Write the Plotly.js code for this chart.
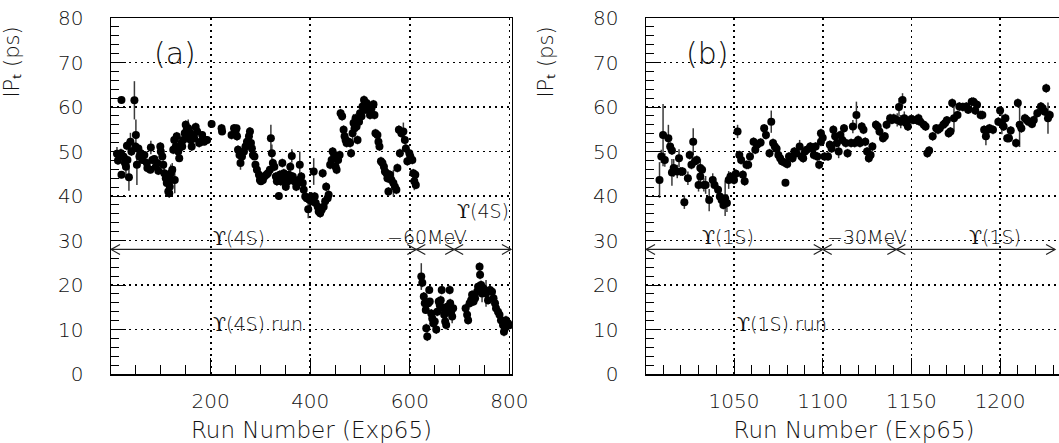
<!DOCTYPE html>
<html>
<head>
<meta charset="utf-8">
<script src="https://cdn.plot.ly/plotly-3.0.1.min.js"></script>
<style>
html,body{margin:0;padding:0;background:#fff;overflow:hidden;}
#chart{width:1062px;height:443px;}
</style>
</head>
<body>
<div id="chart"></div>
<script>
// ---------- Panel (a): Exp65 Upsilon(4S) runs ----------
const runA = [12,14,20,21,21,25,28,30,32,33,36,39,41,47,49,50,52,55,57,60,63,67,72,73,79,80,83,87,90,93,95,99,100,103,105,107,110,112,115,117,118,120,121,123,125,127,128,130,132,135,137,139,141,143,145,148,150,152,153,155,157,160,162,164,167,170,173,177,180,183,187,190,193,202,222,223,242,247,250,252,253,255,258,260,263,267,270,273,277,279,281,283,285,288,290,293,297,299,301,305,308,312,315,319,321,323,325,328,331,333,337,339,341,344,347,349,351,355,357,360,363,365,368,372,377,379,382,385,387,390,393,396,399,402,404,407,409,411,415,417,420,423,425,427,430,432,435,437,440,443,445,448,451,453,456,459,461,464,467,469,471,473,477,480,482,485,487,489,491,493,495,498,500,503,505,508,510,513,517,520,523,527,529,531,535,537,539,542,545,548,550,553,555,557,560,563,567,570,573,575,578,580,583,587,590,592,595,599,601,605,607,609,611,612,623,625,628,630,632,633,635,637,639,640,643,645,647,650,653,655,658,660,662,664,667,669,671,673,675,677,680,681,683,685,687,712,715,717,720,723,725,728,731,735,737,740,741,743,745,747,750,753,757,761,765,768,771,773,777,780,783,787,789,791,793,797,800];
const ipA = [49.5,48,49.6,61.6,44.8,48.9,47.4,46.6,51.3,48.1,44.2,52.2,50,61.5,51.1,53.7,47,50.7,48.9,49.6,48.1,49.2,47.4,46.3,45.9,50.9,48.1,48.3,46.6,47.4,45.7,51.1,50,48.9,47,45.1,44,42.9,41,40.6,42.1,45.1,43.6,45.9,50.4,52.6,43.6,51.1,53.4,50,48.5,51.1,51.9,51.1,52.6,54.1,56,54.9,53.4,55.2,54.5,52.6,51.1,53.7,53,55.5,54.5,51.9,52.2,53.7,52.2,52.6,52.6,56.2,55.2,54.5,53.7,55.2,54.5,55.2,53.4,50.4,49.2,47.4,48.9,50,51.1,52.2,53.4,54.5,51.9,50.7,49.2,48.9,47,45.9,44.8,43.6,43.3,43.6,44.4,44.8,45.1,45.9,53,49.6,47.4,46.6,44.4,43.3,40,44.8,43.3,47.4,45.1,43.6,42.1,43.3,44.8,46.6,49,44.4,43.3,42.1,43.6,47,44.4,42.9,41.4,39.9,39.5,37,39.1,39.9,38.8,45.5,39.9,38.4,37.6,36.5,36.1,36.9,45.1,37.6,38.8,42.1,39.5,40.3,47,48.1,50,49.2,46.6,45.9,48.1,49.2,58.6,57.9,54.9,53.4,52.6,51.9,52.2,51.9,49.6,54.1,56.4,55.2,57.5,55.6,52.6,56.7,58.6,57.9,60.1,61.6,59.4,60.9,59.4,58.2,59.7,60.6,58.2,54.1,53.7,52.2,51.1,47.8,47.4,46.6,45.5,45.1,44,41,44.8,43.6,42.9,42.1,41.4,46.3,54.9,49.6,54.1,54.5,52.6,50.7,47.8,49.6,48.9,48.1,45.1,43.3,44.8,42.5,21.9,20.5,17.4,15.9,14.4,10.3,8.4,15.9,18.9,16.3,13.6,12.5,11.4,11.8,10,14,16.3,15.5,16.6,18.9,14.8,13.3,11.8,11,15.1,14,18.9,15.9,14,12.9,14.8,14.8,13.3,12.1,15.9,16.6,17.8,16.3,17,18.5,19.6,24.1,22.3,20,18.1,19.3,18.9,18.1,16.6,18.9,18.5,17,15.9,14.8,14,13.3,12.1,11,9.5,10.3,12.1,11.4,11];
const errA = [1.5,1,1,0.5,0.8,1,1.5,2,1,1,3,2,1,4.3,1,3.5,4.5,1,1,0.8,0.8,0.8,1,1,0.8,1.5,0.8,0.8,0.8,1,1,1,1.5,0.8,1,1.5,1,1,1,1,1,2,1,1.5,1,1,3,1,1,1,0.8,0.8,0.8,1,1,1,1,1,1,2,1,1,1,1,1,1,1,1,0.8,0.8,0.8,0.8,0.8,0.8,1,0.8,1,1,1,0.8,1,1,1.5,1.5,1,1,1,1,2,1,1,1,1,0.8,0.8,0.8,0.8,0.8,0.8,0.8,0.8,0.8,0.8,0.8,3,2,1,1,1,1,0.8,1,1,1,1,1,1,1,1,1,1.5,1,1,1,1,3,1,1,1,1,1,2,1,1,1,3,1,1,1,1,1,1,1,1,1,1,1,1,1,1,1,1,1,1,1,1,1,1,1,1,1,1,1,1,1,2,2,1,1,1,1,1,1,1,1,1,1,1,1,1,1,1,1,1,1,1,1,1,1,1,1,1,1,1,1,1,3,1,1,1,1,1,1,2,1,1,1,1,1,1,1,2,1,1,3,1,1,0.8,0.8,1,1,1,0.8,0.8,1,1.5,1,1,1,1,1,0.8,1,1,1,1,1,1,1,1,1,1,1,1.5,1,1,1,1,1,1,1,1,1,1,1,1,1,1,2,1,1,3,1,1,1,1,1,1,1,1,1,1,1,1,1,1,1,1,1,3];

// ---------- Panel (b): Exp65 Upsilon(1S) runs ----------
const runB = [1008,1009,1010,1011,1013,1014,1015,1015,1016,1018,1019,1020,1021,1022,1024,1025,1026,1027,1028,1029,1030,1031,1031,1032,1033,1034,1036,1038,1039,1041,1042,1043,1044,1045,1046,1047,1048,1050,1051,1052,1053,1054,1055,1056,1057,1058,1059,1061,1062,1063,1065,1067,1068,1070,1071,1072,1073,1074,1075,1076,1077,1079,1079,1080,1081,1083,1084,1085,1087,1088,1089,1090,1091,1093,1094,1095,1096,1097,1098,1099,1099,1100,1101,1103,1104,1105,1106,1107,1108,1109,1110,1111,1112,1113,1114,1116,1117,1118,1119,1120,1121,1122,1123,1124,1125,1126,1127,1128,1130,1131,1132,1134,1135,1136,1138,1139,1140,1142,1143,1144,1145,1146,1147,1148,1150,1151,1153,1154,1155,1157,1158,1159,1160,1162,1164,1165,1166,1168,1169,1170,1171,1172,1173,1174,1176,1177,1179,1181,1182,1184,1185,1186,1187,1189,1190,1191,1192,1193,1194,1196,1199,1200,1201,1202,1203,1204,1205,1206,1209,1210,1211,1212,1214,1215,1216,1218,1219,1221,1223,1224,1225,1226,1227,1228];
const ipB = [43.6,48.9,53.7,48.1,53,51.1,50.2,45.3,46.3,45.5,48.5,45.5,45.5,38.6,44,49.2,47,52.2,47.8,48.1,42.5,46.3,44.4,45.9,42.5,42.5,39.1,43.6,42.5,41.4,39.9,39.1,38,39.5,38.4,43.6,44.4,43.6,45,54.5,49.2,48.1,44.8,43.3,47,47,48.9,52.2,50.4,51.5,52,55.2,53.7,49.6,56.7,51.9,51.1,50.6,49.2,48.5,47.8,43,47.4,47.2,48.9,48.5,50,49.6,51.1,48.9,48.5,50,50.4,51.1,50.7,49.2,51.1,48.9,47,52.2,54.1,53.1,48.9,48.9,51.5,50.7,54.9,53.4,51.9,50,53.7,52.6,55.2,51.9,49.6,51.9,55.6,51.9,58.2,52.6,51.9,55.6,54.9,52.2,50,48.5,49.2,51.1,56,55.6,54.5,53,53.4,56,57.5,57.1,57.5,57.1,60,56.7,61.6,57.5,56.4,55.6,57.3,57.1,57,57.5,56.7,56,55.6,49.6,50.2,53.4,55.2,54.9,55.2,56,56.4,57,54.1,54.5,60.9,57.5,58.2,60.1,60,60.1,59.4,61.2,61.2,59.2,60.5,58.2,58.2,54.9,53.4,54.9,55.2,54.9,56.7,59.2,56.4,55.6,57.5,53,53,54.7,51.9,60.9,56,55.2,57.5,57.1,56.7,56.2,57.1,58.6,60.1,59.7,59,64.2,57.5,58.2];
const errB = [4,1.5,7,1.5,3,1,1,3,2,1.5,2,1,1,1.5,1.5,1,1,3,1,1,1.5,2,1.5,1,1.5,2,2.5,1.5,1,1,1,1,1,4,2,2,1,1,1,1.5,1,1,1,1,1,1,1,1,1,1,1,1,1,1,2.5,1,1,1,1,1,1,0.8,1,1,1,1,1,1,1.5,1,1,1,1,1,1,1,1,1,1,1,1,1,1,1,1,1,1,1,1,1.5,1,1,1,1,1,1,1.5,1,3,1,1,1,1,1,1,1,1,1,1,1,1,1,1,1,1,1,1,1.5,2,1.5,1.5,1.5,1,1,1,1,1,1,1,1,1,1,1,1,1,1,1,1,1,1,1,1,1,3,1,1,1,1,1,1,1,1,1,1,1,1,2,1,1,1,1,1,2.5,1,1,1,1,1,1,1,5,1,1,1,1,1,1,1,1,1,1,1,3.5,1,1];

// energy-scan segment boundaries (run numbers) for the arrow bars
const boundsA = [0, 613, 689, 803];
const boundsB = [1000.4, 1100, 1141.5, 1231];
const arrowY = 28;

const FONT = "DejaVu Sans, Liberation Sans, sans-serif";
const TXT = '#111';
const UPS = '<span style="font-family:\'DejaVu Serif\';font-weight:normal">ϒ</span>';

function traceFor(x, y, e, xa, ya) {
  return {
    type: 'scatter', mode: 'markers', x: x, y: y, xaxis: xa, yaxis: ya,
    marker: {color: '#000', size: 8},
    error_y: {type: 'data', array: e, visible: true, color: '#3a3a3a', thickness: 1.5, width: 0},
    hoverinfo: 'x+y', showlegend: false
  };
}

function axisX(domain, range, tickvals, minorDtick) {
  return {
    domain: domain, range: range, tickmode: 'array', tickvals: tickvals,
    ticks: 'inside', ticklen: 16, tickwidth: 1, tickcolor: '#000',
    minor: {tickmode: 'linear', tick0: range[0] < 100 ? 0 : 1000, dtick: minorDtick, ticks: 'inside', ticklen: 9, tickwidth: 1, tickcolor: '#000', showgrid: false},
    showgrid: true, gridcolor: '#000', griddash: '2px,4px', gridwidth: 1.8,
    showline: true, linecolor: '#000', linewidth: 1.5, mirror: true,
    zeroline: false, ticklabelstandoff: 8,
    tickfont: {family: FONT, size: 20, color: TXT, weight: 200},
    title: {text: 'Run Number (Exp65)', standoff: 14, font: {family: FONT, size: 23, color: TXT, weight: 200}}
  };
}
function axisY(anchor) {
  return {
    domain: [0, 1], range: [0, 80], anchor: anchor, tickmode: 'linear', tick0: 0, dtick: 10,
    ticks: 'inside', ticklen: 15, tickwidth: 1, tickcolor: '#000',
    minor: {tickmode: 'linear', tick0: 0, dtick: 2, ticks: 'inside', ticklen: 8, tickwidth: 1, tickcolor: '#000', showgrid: false},
    showgrid: true, gridcolor: '#000', griddash: '2px,4px', gridwidth: 1.2,
    showline: true, linecolor: '#000', linewidth: 1.5, mirror: true,
    zeroline: false, ticklabelstandoff: 22,
    tickfont: {family: FONT, size: 20, color: TXT, weight: 200},
    title: {text: 'IPₜ (ps)', standoff: 33, font: {family: FONT, size: 21, color: TXT, weight: 200}}
  };
}

function arrowShapes(bounds, xref, yref) {
  const s = [];
  const lineStyle = {color: '#222', width: 1.2};
  s.push({type: 'line', xref: xref, yref: yref, x0: bounds[0], x1: bounds[bounds.length - 1], y0: arrowY, y1: arrowY, line: lineStyle});
  bounds.forEach((b, i) => {
    let path = '';
    if (i > 0) path += 'M-9,5 L0,0 L-9,-5 ';
    if (i < bounds.length - 1) path += 'M9,5 L0,0 L9,-5';
    s.push({type: 'path', xref: xref, yref: yref, xsizemode: 'pixel', ysizemode: 'pixel',
            xanchor: b, yanchor: arrowY, path: path.trim(), line: lineStyle});
  });
  return s;
}

const labelFont = {family: FONT, size: 19, color: TXT, weight: 200};
function ann(text, x, y, xref, yref, xanchor, extra) {
  return Object.assign({text: text, x: x, y: y, xref: xref, yref: yref, xanchor: xanchor, yanchor: 'middle',
                        showarrow: false, font: labelFont}, extra || {});
}

const annotations = [
  ann('(a)', 128, 72, 'x', 'y', 'center', {font: {family: FONT, size: 30, color: TXT, weight: 200}}),
  ann('(b)', 1035, 72, 'x2', 'y2', 'center', {font: {family: FONT, size: 30, color: TXT, weight: 200}}),
  ann(UPS + '(4S)', 201, 30.6, 'x', 'y', 'left'),
  ann('−60MeV', 634, 30.8, 'x', 'y', 'center'),
  ann(UPS + '(4S)', 747, 36.6, 'x', 'y', 'center'),
  ann(UPS + '(4S) run', 201, 11.2, 'x', 'y', 'left'),
  ann(UPS + '(1S)', 1046.7, 30.8, 'x2', 'y2', 'center'),
  ann('−30MeV', 1125, 30.8, 'x2', 'y2', 'center'),
  ann(UPS + '(1S)', 1197, 30.8, 'x2', 'y2', 'center'),
  ann(UPS + '(1S) run', 1050.5, 11.2, 'x2', 'y2', 'left')
];

const layout = {
  width: 1062, height: 443,
  margin: {l: 111, r: 0, t: 18, b: 69},
  paper_bgcolor: '#fff', plot_bgcolor: '#fff',
  showlegend: false,
  xaxis: Object.assign(axisX([0, 0.4216], [0, 805], [200, 400, 600, 800], 50), {anchor: 'y'}),
  yaxis: axisY('x'),
  xaxis2: Object.assign(axisX([0.5626, 1], [1000.4, 1234.9], [1050, 1100, 1150, 1200], 10), {anchor: 'y2'}),
  yaxis2: axisY('x2'),
  shapes: arrowShapes(boundsA, 'x', 'y').concat(arrowShapes(boundsB, 'x2', 'y2')),
  annotations: annotations
};

// vertical centre (px from top) of the y-axis titles in the reference: near the top of the axis
const yTitleCentre = 62;

Plotly.newPlot('chart', [
  traceFor(runA, ipA, errA, 'x', 'y'),
  traceFor(runB, ipB, errB, 'x2', 'y2')
], layout, {displayModeBar: false, staticPlot: true}).then(function (gd) {
  // Plotly always centres axis titles; shift the y titles up to where the reference draws them.
  ['.g-ytitle', '.g-y2title'].forEach(function (sel) {
    const t = gd.querySelector(sel + ' text');
    if (!t) return;
    const x = parseFloat(t.getAttribute('x'));
    t.setAttribute('y', yTitleCentre);
    t.setAttribute('transform', 'rotate(-90,' + x + ',' + yTitleCentre + ')');
  });
});
</script>
</body>
</html>
